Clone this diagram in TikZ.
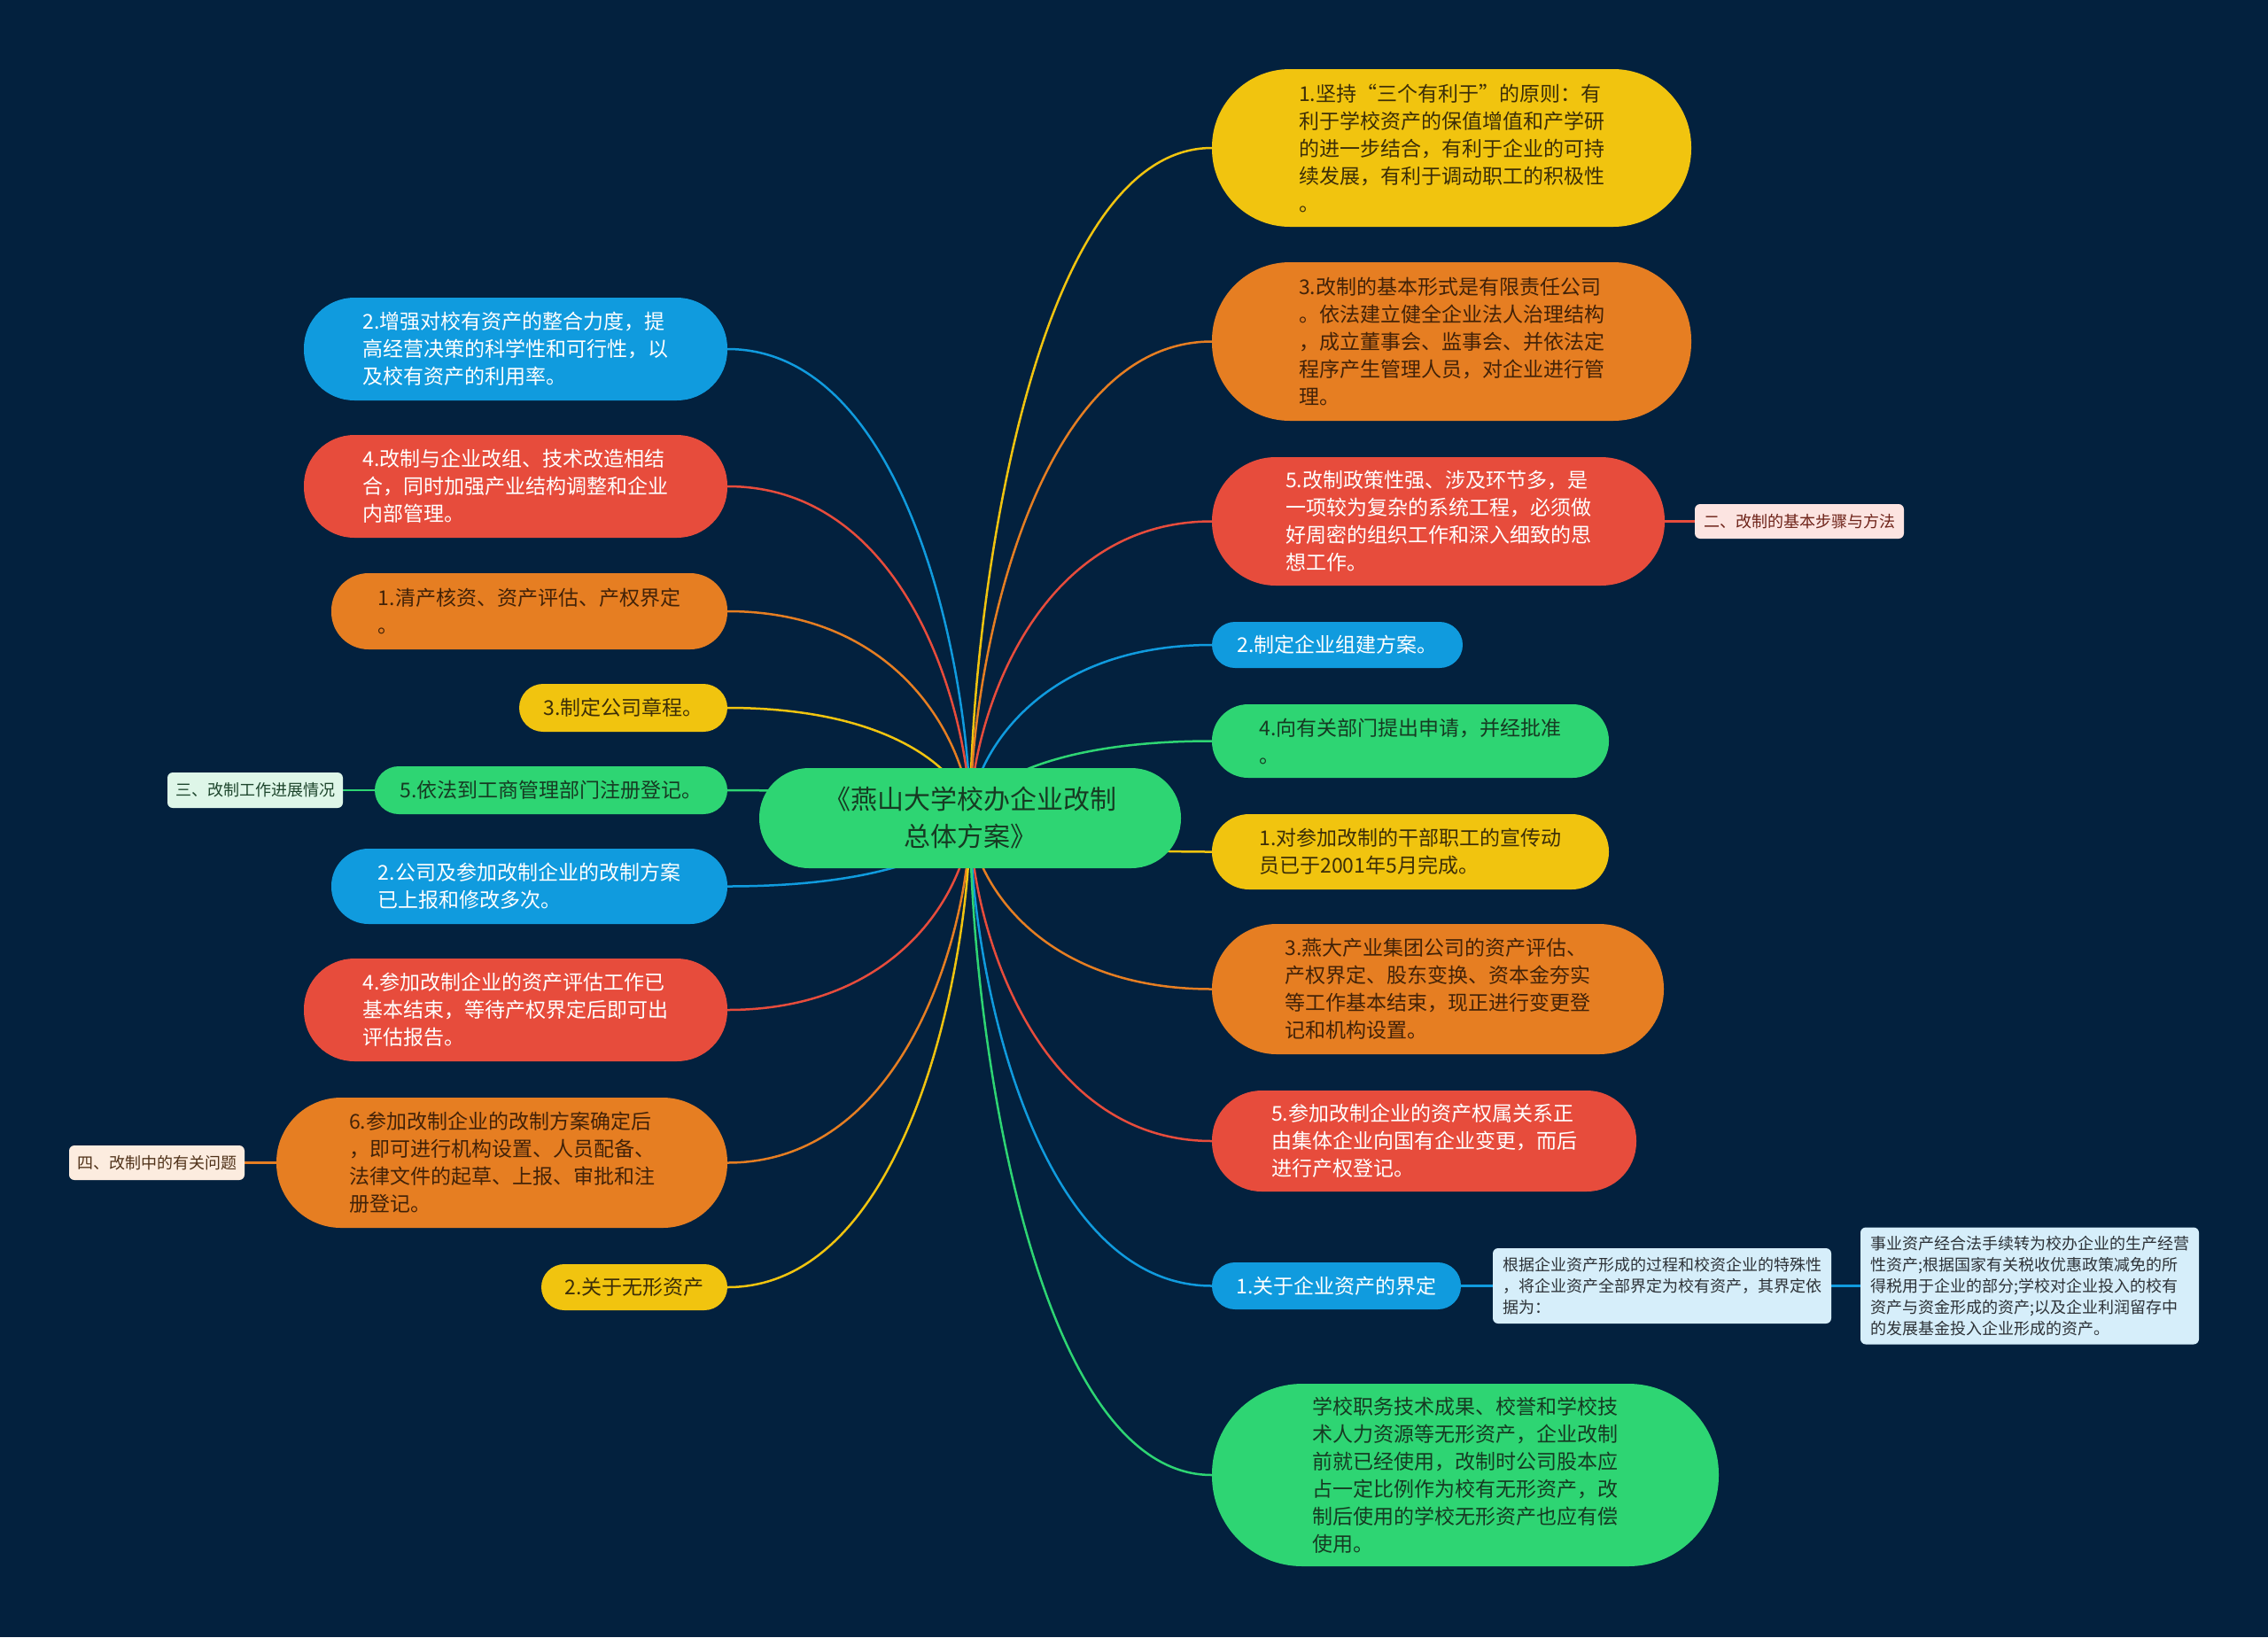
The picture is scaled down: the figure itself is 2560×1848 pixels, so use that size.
\documentclass[tikz,border=0pt]{standalone}
\usepackage{fontspec}
\setmainfont{Noto Sans CJK SC}
\usetikzlibrary{calc}
\definecolor{bgc}{RGB}{3,33,62}
\definecolor{cyel}{RGB}{241,196,15}
\definecolor{cora}{RGB}{230,126,34}
\definecolor{cred}{RGB}{231,76,60}
\definecolor{cblu}{RGB}{16,155,222}
\definecolor{cgrn}{RGB}{46,213,115}
\definecolor{tyel}{RGB}{60,46,8}
\definecolor{tora}{RGB}{66,34,8}
\definecolor{tgrn}{RGB}{22,58,34}
\definecolor{lpink}{RGB}{252,228,225}
\definecolor{tpink}{RGB}{110,35,25}
\definecolor{lgrn}{RGB}{222,246,232}
\definecolor{tlgrn}{RGB}{30,70,45}
\definecolor{lcream}{RGB}{252,236,223}
\definecolor{tcream}{RGB}{80,50,25}
\definecolor{lblu}{RGB}{214,238,250}
\definecolor{tlblu}{RGB}{45,50,55}
\pgfdeclarelayer{back}
\pgfdeclarelayer{lines}
\pgfsetlayers{back,lines,main}
\newcommand{\mmbranch}[2]{%
  \draw[conn,#1] let \p1=(C.center), \p2=(#2) in
    (C.center) .. controls (\x1,{\y1+0.3*(\y2-\y1)}) and ({\x1+0.25*(\x2-\x1)},\y2) .. (#2);}
\begin{document}
\begin{tikzpicture}[x=1pt,y=1pt,
  box/.style={rectangle, inner sep=0pt, align=left, font=\fontsize{23}{31}\selectfont},
  ybox/.style={box, fill=cyel, text=tyel},
  obox/.style={box, fill=cora, text=tora},
  rbox/.style={box, fill=cred, text=white},
  bbox/.style={box, fill=cblu, text=white},
  gbox/.style={box, fill=cgrn, text=tgrn},
  lab/.style={rectangle, rounded corners=6pt, inner sep=0pt, align=left, font=\fontsize{18}{24}\selectfont},
  conn/.style={line width=2.5pt}
]
\begin{pgfonlayer}{back}
\fill[bgc] (0,0) rectangle (2560,-1848);
\end{pgfonlayer}
\useasboundingbox (0,0) rectangle (2560,-1848);

% center
\node[gbox, align=center, font=\fontsize{30}{42}\selectfont, minimum width=476pt, minimum height=113pt, rounded corners=56pt] (C) at (1095,-923.5) {《燕山大学校办企业改制\\总体方案》};

% right side
\node[ybox, minimum width=541pt, minimum height=178pt, rounded corners=88pt] (R1) at (1638.5,-167) {1.坚持“三个有利于”的原则：有\\利于学校资产的保值增值和产学研\\的进一步结合，有利于企业的可持\\续发展，有利于调动职工的积极性\\。};
\node[obox, minimum width=541pt, minimum height=179pt, rounded corners=88pt] (R2) at (1638.5,-385.5) {3.改制的基本形式是有限责任公司\\。依法建立健全企业法人治理结构\\，成立董事会、监事会、并依法定\\程序产生管理人员，对企业进行管\\理。};
\node[rbox, minimum width=511pt, minimum height=145pt, rounded corners=72pt] (R3) at (1623.5,-588.5) {5.改制政策性强、涉及环节多，是\\一项较为复杂的系统工程，必须做\\好周密的组织工作和深入细致的思\\想工作。};
\node[lab, fill=lpink, text=tpink, minimum width=236pt, minimum height=39pt] (R3b) at (2031,-588.5) {二、改制的基本步骤与方法};
\node[bbox, minimum width=283pt, minimum height=52pt, rounded corners=26pt] (R4) at (1509.5,-728) {2.制定企业组建方案。};
\node[gbox, minimum width=448pt, minimum height=83pt, rounded corners=41pt] (R5) at (1592,-836.5) {4.向有关部门提出申请，并经批准\\。};
\node[ybox, minimum width=448pt, minimum height=85pt, rounded corners=42pt] (R6) at (1592,-961.5) {1.对参加改制的干部职工的宣传动\\员已于2001年5月完成。};
\node[obox, minimum width=510pt, minimum height=147pt, rounded corners=73pt] (R7) at (1623,-1116.5) {3.燕大产业集团公司的资产评估、\\产权界定、股东变换、资本金夯实\\等工作基本结束，现正进行变更登\\记和机构设置。};
\node[rbox, minimum width=479pt, minimum height=114pt, rounded corners=56pt] (R8) at (1607.5,-1288) {5.参加改制企业的资产权属关系正\\由集体企业向国有企业变更，而后\\进行产权登记。};
\node[bbox, minimum width=281pt, minimum height=53pt, rounded corners=26pt] (R9) at (1508.5,-1451.5) {1.关于企业资产的界定};
\node[lab, fill=lblu, text=tlblu, minimum width=382pt, minimum height=85pt] (R9b) at (1876,-1451.5) {根据企业资产形成的过程和校资企业的特殊性\\，将企业资产全部界定为校有资产，其界定依\\据为：};
\node[lab, fill=lblu, text=tlblu, minimum width=382pt, minimum height=132pt] (R9c) at (2291,-1451.5) {事业资产经合法手续转为校办企业的生产经营\\性资产;根据国家有关税收优惠政策减免的所\\得税用于企业的部分;学校对企业投入的校有\\资产与资金形成的资产;以及企业利润留存中\\的发展基金投入企业形成的资产。};
\node[gbox, minimum width=572pt, minimum height=206pt, rounded corners=102pt] (R10) at (1654,-1665) {学校职务技术成果、校誉和学校技\\术人力资源等无形资产，企业改制\\前就已经使用，改制时公司股本应\\占一定比例作为校有无形资产，改\\制后使用的学校无形资产也应有偿\\使用。};

% left side
\node[bbox, minimum width=478pt, minimum height=116pt, rounded corners=57pt] (L1) at (582,-394) {2.增强对校有资产的整合力度，提\\高经营决策的科学性和可行性，以\\及校有资产的利用率。};
\node[rbox, minimum width=478pt, minimum height=116pt, rounded corners=57pt] (L2) at (582,-549) {4.改制与企业改组、技术改造相结\\合，同时加强产业结构调整和企业\\内部管理。};
\node[obox, minimum width=447pt, minimum height=86pt, rounded corners=42pt] (L3) at (597.5,-690) {1.清产核资、资产评估、产权界定\\。};
\node[ybox, minimum width=235pt, minimum height=54pt, rounded corners=27pt] (L4) at (703.5,-799) {3.制定公司章程。};
\node[gbox, minimum width=398pt, minimum height=54pt, rounded corners=27pt] (L5) at (622,-892) {5.依法到工商管理部门注册登记。};
\node[lab, fill=lgrn, text=tlgrn, minimum width=198pt, minimum height=40pt] (L5b) at (288,-892) {三、改制工作进展情况};
\node[bbox, minimum width=447pt, minimum height=85pt, rounded corners=42pt] (L6) at (597.5,-1000.5) {2.公司及参加改制企业的改制方案\\已上报和修改多次。};
\node[rbox, minimum width=478pt, minimum height=116pt, rounded corners=57pt] (L7) at (582,-1140) {4.参加改制企业的资产评估工作已\\基本结束，等待产权界定后即可出\\评估报告。};
\node[obox, minimum width=509pt, minimum height=147pt, rounded corners=73pt] (L8) at (566.5,-1312.5) {6.参加改制企业的改制方案确定后\\，即可进行机构设置、人员配备、\\法律文件的起草、上报、审批和注\\册登记。};
\node[lab, fill=lcream, text=tcream, minimum width=198pt, minimum height=39pt] (L8b) at (177,-1312.5) {四、改制中的有关问题};
\node[ybox, minimum width=210pt, minimum height=52pt, rounded corners=26pt] (L9) at (716,-1453) {2.关于无形资产};

\begin{pgfonlayer}{lines}
\mmbranch{cyel}{R1.west}
\mmbranch{cora}{R2.west}
\mmbranch{cred}{R3.west}
\mmbranch{cblu}{R4.west}
\mmbranch{cgrn}{R5.west}
\mmbranch{cyel}{R6.west}
\mmbranch{cora}{R7.west}
\mmbranch{cred}{R8.west}
\mmbranch{cblu}{R9.west}
\mmbranch{cgrn}{R10.west}
\mmbranch{cblu}{L1.east}
\mmbranch{cred}{L2.east}
\mmbranch{cora}{L3.east}
\mmbranch{cyel}{L4.east}
\mmbranch{cgrn}{L5.east}
\mmbranch{cblu}{L6.east}
\mmbranch{cred}{L7.east}
\mmbranch{cora}{L8.east}
\mmbranch{cyel}{L9.east}
\draw[conn,cred] (R3.east) -- (R3b.west);
\draw[conn,cblu] (R9.east) -- (R9b.west);
\draw[conn,cblu] (R9b.east) -- (R9c.west);
\draw[conn,cgrn] (L5.west) -- (L5b.east);
\draw[conn,cora] (L8.west) -- (L8b.east);
\end{pgfonlayer}
\end{tikzpicture}
\end{document}
